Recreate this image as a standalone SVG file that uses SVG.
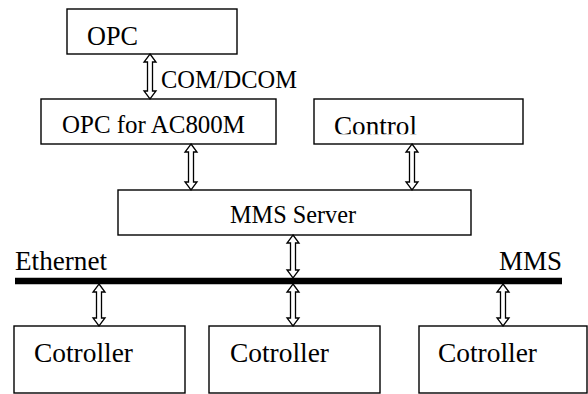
<svg xmlns="http://www.w3.org/2000/svg" width="588" height="394" viewBox="0 0 588 394">
  <style>
    .box { fill: #ffffff; stroke: #000000; stroke-width: 1.4; }
    text { font-family: "Liberation Serif", "DejaVu Serif", "Times New Roman", serif; fill: #000000; }
    .big { font-size: 27px; }
    .mid { font-size: 24.5px; }
    .arr { fill: #ffffff; stroke: #000000; stroke-width: 1.3; stroke-linejoin: miter; }
    .bus { stroke: #000000; stroke-width: 6.5; }
  </style>
  <defs>
    <clipPath id="controlClip">
      <rect x="314" y="99" width="209" height="35.3"/>
    </clipPath>
  </defs>
  <rect width="588" height="394" fill="#ffffff"/>

  <g id="opc">
    <rect class="box" x="67" y="9" width="170" height="45"/>
    <text class="big" x="87" y="45" textLength="51" lengthAdjust="spacingAndGlyphs">OPC</text>
  </g>

  <g id="opc-ac800m">
    <rect class="box" x="41" y="99" width="235" height="45"/>
    <text class="mid" x="62" y="133" textLength="183" lengthAdjust="spacingAndGlyphs">OPC for AC800M</text>
  </g>

  <g id="control">
    <rect class="box" x="314" y="99" width="209" height="45"/>
    <text class="big" x="334" y="135" clip-path="url(#controlClip)" textLength="83" lengthAdjust="spacingAndGlyphs">Control</text>
  </g>

  <g id="mms-server">
    <rect class="box" x="118" y="190" width="353" height="45"/>
    <text class="mid" x="230" y="223" textLength="126" lengthAdjust="spacingAndGlyphs">MMS Server</text>
  </g>

  <g id="ethernet-bus">
    <line class="bus" x1="15" y1="281" x2="562" y2="281"/>
    <text class="big" x="15" y="270" textLength="92" lengthAdjust="spacingAndGlyphs">Ethernet</text>
    <text class="big" x="499" y="270" textLength="63" lengthAdjust="spacingAndGlyphs">MMS</text>
  </g>

  <g id="controller-1">
    <rect class="box" x="14" y="326" width="171" height="67"/>
    <text class="big" x="34" y="362" textLength="99" lengthAdjust="spacingAndGlyphs">Cotroller</text>
  </g>
  <g id="controller-2">
    <rect class="box" x="209" y="326" width="171" height="67"/>
    <text class="big" x="230" y="362" textLength="99" lengthAdjust="spacingAndGlyphs">Cotroller</text>
  </g>
  <g id="controller-3">
    <rect class="box" x="419" y="326" width="168" height="67"/>
    <text class="big" x="438" y="362" textLength="99" lengthAdjust="spacingAndGlyphs">Cotroller</text>
  </g>

  <g id="connectors">
    <!-- OPC <-> OPC for AC800M -->
    <path class="arr" d="M150,54 L156,62 L152.5,62 L152.5,91 L156,91 L150,99 L144,91 L147.5,91 L147.5,62 L144,62 Z"/>
    <text class="mid" x="161" y="88" textLength="136" lengthAdjust="spacingAndGlyphs">COM/DCOM</text>
    <!-- OPC for AC800M <-> MMS Server -->
    <path class="arr" d="M191,144 L197,152 L193.5,152 L193.5,182 L197,182 L191,190 L185,182 L188.5,182 L188.5,152 L185,152 Z"/>
    <!-- Control <-> MMS Server -->
    <path class="arr" d="M412,144 L418,152 L414.5,152 L414.5,182 L418,182 L412,190 L406,182 L409.5,182 L409.5,152 L406,152 Z"/>
    <!-- MMS Server <-> bus -->
    <path class="arr" d="M293,235 L299,243 L295.5,243 L295.5,270 L299,270 L293,278 L287,270 L290.5,270 L290.5,243 L287,243 Z"/>
    <!-- bus <-> controllers -->
    <path class="arr" d="M99,284 L105,292 L101.5,292 L101.5,318 L105,318 L99,326 L93,318 L96.5,318 L96.5,292 L93,292 Z"/>
    <path class="arr" d="M293,284 L299,292 L295.5,292 L295.5,318 L299,318 L293,326 L287,318 L290.5,318 L290.5,292 L287,292 Z"/>
    <path class="arr" d="M503,284 L509,292 L505.5,292 L505.5,318 L509,318 L503,326 L497,318 L500.5,318 L500.5,292 L497,292 Z"/>
  </g>
</svg>
